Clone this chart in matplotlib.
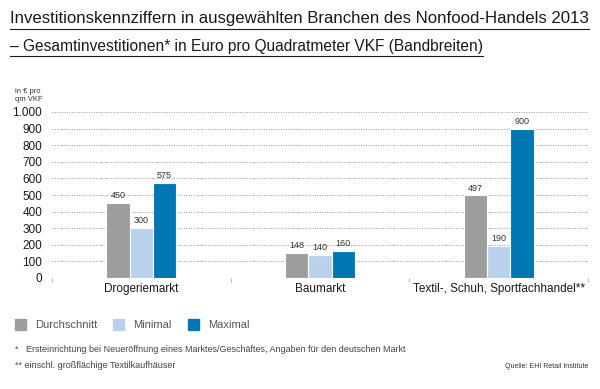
import numpy as np
import matplotlib
matplotlib.use("Agg")
import matplotlib.pyplot as plt
from matplotlib.patches import Rectangle

plt.rcParams['font.family'] = ['Liberation Sans Narrow', 'Liberation Sans', 'DejaVu Sans']

# Daten
kategorien = ["Drogeriemarkt", "Baumarkt", "Textil-, Schuh, Sportfachhandel**"]
durchschnitt = [450, 148, 497]
minimal = [300, 140, 190]
maximal = [575, 160, 900]
serien = ["Durchschnitt", "Minimal", "Maximal"]
farben = ["#9d9d9c", "#b9d1ea", "#0077b3"]
yticks = [0, 100, 200, 300, 400, 500, 600, 700, 800, 900, 1000]
ytick_labels = ["0", "100", "200", "300", "400", "500", "600", "700", "800", "900", "1.000"]

W, H = 600, 389
fig = plt.figure(figsize=(W / 100, H / 100), dpi=100)
ax = fig.add_axes([52 / W, 1 - 278 / H, 536 / W, 166 / H])

x = np.arange(len(kategorien))
bw = 0.13
for k, (werte, farbe) in enumerate(zip([durchschnitt, minimal, maximal], farben)):
    pos = x + (k - 1) * bw
    ax.bar(pos, werte, width=bw, color=farbe, edgecolor="white", linewidth=0.8, zorder=3)
    for p, v in zip(pos, werte):
        ax.text(p, v + 18, str(v), ha="center", va="bottom", fontsize=6.5, color="#333333")

ax.set_xlim(-0.5, 2.5)
ax.set_ylim(0, 1000)
ax.set_yticks(yticks)
ax.set_yticklabels(ytick_labels, fontsize=8.5, color="#1a1a1a")
ax.grid(axis="y", linestyle=(0, (1, 1.5)), color="#9a9a9a", linewidth=0.7, zorder=0)
ax.tick_params(axis="y", length=0, pad=7)
ax.set_xticks([-0.5, 0.5, 1.5, 2.5], minor=False)
ax.set_xticklabels([])
ax.tick_params(axis="x", length=3, color="#bbbbbb", direction="out")
for s in ["top", "right", "left", "bottom"]:
    ax.spines[s].set_visible(False)
for i, kat in enumerate(kategorien):
    ax.text(i, -68, kat, ha="center", va="center", fontsize=8.5, color="#1a1a1a")

# Titel (unterstrichen)
t1 = "Investitionskennziffern in ausgewählten Branchen des Nonfood-Handels 2013"
t2 = "– Gesamtinvestitionen* in Euro pro Quadratmeter VKF (Bandbreiten)"
tx1 = fig.text(10 / W, 1 - 19 / H, t1, fontsize=12.1, va="center", color="#1a1a1a")
tx2 = fig.text(10 / W, 1 - 46 / H, t2, fontsize=11.2, va="center", color="#1a1a1a")
fig.canvas.draw()
r = fig.canvas.get_renderer()
for tx, yl in [(tx1, 29), (tx2, 56)]:
    bb = tx.get_window_extent(r)
    fig.add_artist(plt.Line2D([bb.x0 / W, bb.x1 / W], [1 - yl / H] * 2, color="#1a1a1a", lw=0.8))

fig.text(15 / W, 1 - 88 / H, "in € pro\nqm VKF", fontsize=5.5, va="top", linespacing=1.2, color="#333333")

# Legende
lx = [15, 113, 188]
for xx, name, farbe in zip(lx, serien, farben):
    fig.add_artist(Rectangle((xx / W, 1 - 330 / H), 11 / W, 11 / H, color=farbe, transform=fig.transFigure))
    fig.text((xx + 20) / W, 1 - 324.5 / H, name, fontsize=8, va="center", color="#555555")

fig.text(15 / W, 1 - 349 / H, "*", fontsize=6.5, va="center", color="#444444")
fig.text(26 / W, 1 - 349 / H, "Ersteinrichtung bei Neueröffnung eines Marktes/Geschäftes, Angaben für den deutschen Markt",
         fontsize=6.5, va="center", color="#444444")
fig.text(15 / W, 1 - 366 / H, "** einschl. großflächige Textilkaufhäuser", fontsize=6.5, va="center", color="#444444")
fig.text(588 / W, 1 - 366 / H, "Quelle: EHI Retail Institute", fontsize=5, va="center", ha="right", color="#333333")

fig.savefig("out.png", dpi=100)
